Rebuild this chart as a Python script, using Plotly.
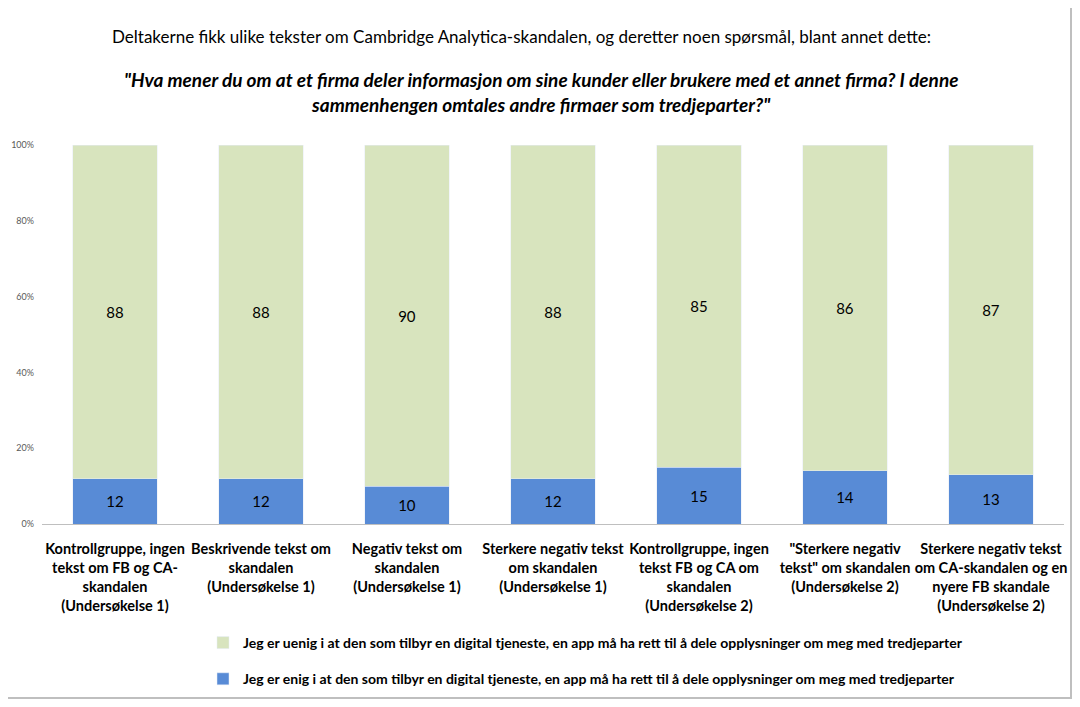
import plotly.graph_objects as go

categories = [
    "Kontrollgruppe, ingen<br>tekst om FB og CA-<br>skandalen<br>(Undersøkelse 1)",
    "Beskrivende tekst om<br>skandalen<br>(Undersøkelse 1)",
    "Negativ tekst om<br>skandalen<br>(Undersøkelse 1)",
    "Sterkere negativ tekst<br>om skandalen<br>(Undersøkelse 1)",
    "Kontrollgruppe, ingen<br>tekst FB og CA om<br>skandalen<br>(Undersøkelse 2)",
    "\"Sterkere negativ<br>tekst\" om skandalen<br>(Undersøkelse 2)",
    "Sterkere negativ tekst<br>om CA-skandalen og en<br>nyere FB skandale<br>(Undersøkelse 2)",
]
enig = [12, 12, 10, 12, 15, 14, 13]
uenig = [88, 88, 90, 88, 85, 86, 87]
name_enig = "Jeg er enig i at den som tilbyr en digital tjeneste, en app må ha rett til å dele opplysninger om meg med tredjeparter"
name_uenig = "Jeg er uenig i at den som tilbyr en digital tjeneste, en app må ha rett til å dele opplysninger om meg med tredjeparter"
yticks = [0, 20, 40, 60, 80, 100]
ytick_labels = ["0%", "20%", "40%", "60%", "80%", "100%"]

FONT = "Lato"
# the page has the default 8px body margin; keep the figure inside the window
OFF = 8
W, H = 1080 - 2 * OFF, 707 - 2 * OFF
L, T = 42 - OFF, 145 - OFF
R = W - (1064 - OFF)
B = H - (524 - OFF)
PW, PH = W - L - R, H - T - B

fig = go.Figure()
fig.add_trace(go.Bar(
    x=categories, y=enig, name=name_enig, marker_color="#588BD6",
    text=[str(v) for v in enig], textposition="inside", insidetextanchor="middle",
    textfont=dict(size=15, color="#000000", family=FONT), legendgroup="a", legendrank=2,
))
fig.add_trace(go.Bar(
    x=categories, y=uenig, name=name_uenig, marker_color="#D8E4BE",
    text=[str(v) for v in uenig], textposition="inside", insidetextanchor="middle",
    textfont=dict(size=15, color="#000000", family=FONT), legendgroup="b", legendrank=1,
))

fig.update_layout(
    barmode="stack",
    bargap=0.42,
    width=W, height=H,
    margin=dict(l=L, r=R, t=T, b=B, autoexpand=False),
    paper_bgcolor="white", plot_bgcolor="white",
    font=dict(family=FONT, color="#000000"),
    uniformtext=dict(mode="show", minsize=15),
    legend=dict(
        orientation="v",
        xref="container", x=(203 - OFF) / W, xanchor="left",
        yref="container", y=1 - (627 - OFF) / H, yanchor="top",
        traceorder="grouped", tracegroupgap=15,
        font=dict(size=14, family=FONT, color="#000000", weight="bold"),
        itemwidth=30,
    ),
    xaxis=dict(
        showline=True, linecolor="#BFBFBF", linewidth=1, ticks="",
        tickfont=dict(size=14.5, family=FONT, color="#000000", weight="bold"),
        tickangle=0, ticklabelstandoff=12,
    ),
    yaxis=dict(
        range=[0, 100], tickvals=yticks, ticktext=ytick_labels,
        showgrid=False, zeroline=False, showline=False, ticks="",
        tickfont=dict(size=9, family=FONT, color="#595959"),
        ticklabelstandoff=7,
    ),
    annotations=[
        dict(text="Deltakerne fikk ulike tekster om Cambridge Analytica-skandalen, og deretter noen spørsmål, blant annet dette:",
             xref="paper", yref="paper", x=(521.5 - OFF - L) / PW, y=1.0 + (T - (37 - OFF)) / PH, xanchor="center", yanchor="middle",
             showarrow=False, font=dict(size=17, family=FONT, color="#000000")),
        dict(text="<b><i>\"Hva mener du om at et firma deler informasjon om sine kunder eller brukere med et annet firma? I denne<br>sammenhengen omtales andre firmaer som tredjeparter?\"</i></b>",
             xref="paper", yref="paper", x=(541 - OFF - L) / PW, y=1.0 + (T - (92 - OFF)) / PH, xanchor="center", yanchor="middle",
             showarrow=False, font=dict(size=19, family=FONT, color="#000000")),
    ],
    shapes=[
        dict(type="line", xref="paper", yref="paper",
             x0=1 + (R - 1) / PW, x1=1 + (R - 1) / PW, y0=-(B - 1) / PH, y1=1 + T / PH,
             line=dict(color="#BFBFBF", width=2)),
        dict(type="line", xref="paper", yref="paper",
             x0=-L / PW, x1=1 + R / PW, y0=-(B - 1) / PH, y1=-(B - 1) / PH,
             line=dict(color="#BFBFBF", width=2)),
    ],
)

fig.write_html("out.html")
